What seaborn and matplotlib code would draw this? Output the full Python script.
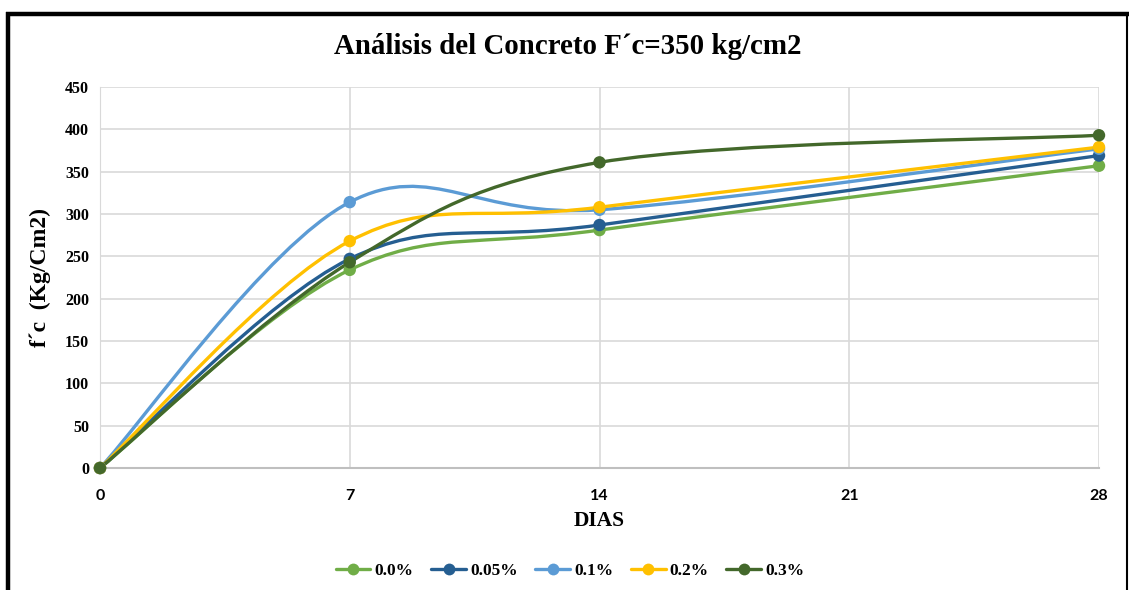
import numpy as np
import pandas as pd
import matplotlib
matplotlib.use("Agg")
import matplotlib.pyplot as plt
import seaborn as sns
from matplotlib.path import Path
from matplotlib.patches import PathPatch
from matplotlib.lines import Line2D

dias = [0, 7, 14, 28]
series_names = ["0.0%", "0.05%", "0.1%", "0.2%", "0.3%"]
v_00 = [0, 234, 281, 357]
v_005 = [0, 247, 287, 369]
v_01 = [0, 314, 305, 377]
v_02 = [0, 268, 308, 379]
v_03 = [0, 243, 361, 393]
colors = ["#70AD47", "#255E91", "#5B9BD5", "#FFC000", "#43682B"]
y_ticks = list(range(0, 451, 50))
x_ticks = [0, 7, 14, 21, 28]

values = [v_00, v_005, v_01, v_02, v_03]
df = pd.DataFrame({
    "DIAS": dias * len(series_names),
    "fc": sum(values, []),
    "serie": [s for s in series_names for _ in dias],
})

sns.set_style("white")
plt.rcParams["font.family"] = ["Liberation Serif", "DejaVu Serif"]
plt.rcParams["text.color"] = "black"
plt.rcParams["axes.labelcolor"] = "black"
plt.rcParams["xtick.color"] = "black"
plt.rcParams["ytick.color"] = "black"

fig = plt.figure(figsize=(11.29, 5.90), dpi=100)
ax = fig.add_axes([100 / 1129, 1 - 468 / 590, (1099 - 100) / 1129, (468 - 87) / 590])


def smooth_path(xs, ys):
    pts = np.column_stack([xs, ys]).astype(float)
    n = len(pts)
    verts = [pts[0]]
    codes = [Path.MOVETO]
    for i in range(n - 1):
        p0 = pts[i - 1] if i > 0 else pts[i]
        p1 = pts[i]
        p2 = pts[i + 1]
        p3 = pts[i + 2] if i + 2 < n else pts[i + 1]
        c1 = p1 + (p2 - p0) / 6.0
        c2 = p2 - (p3 - p1) / 6.0
        verts += [c1, c2, p2]
        codes += [Path.CURVE4] * 3
    return Path(verts, codes)


for name, vals, col in zip(series_names, values, colors):
    patch = PathPatch(smooth_path(dias, vals), facecolor="none", edgecolor=col,
                      lw=2.4, zorder=3, capstyle="round", joinstyle="round")
    ax.add_patch(patch)

sns.scatterplot(data=df, x="DIAS", y="fc", hue="serie", palette=colors,
                hue_order=series_names, s=80, edgecolor="none", ax=ax,
                zorder=4, legend=False, clip_on=False)

ax.set_xlim(0, 28)
ax.set_ylim(0, 450)
ax.set_xticks(x_ticks)
ax.set_yticks(y_ticks)
ax.set_xticklabels([str(t) for t in x_ticks], family=["Lato", "DejaVu Sans"],
                   fontweight="bold", fontsize=11.5)
ax.set_yticklabels([str(t) for t in y_ticks], fontweight="bold", fontsize=11.5)
ax.tick_params(axis="y", length=0, pad=8)
ax.tick_params(axis="x", length=0, pad=15)
ax.grid(True, color="#D9D9D9", lw=1.2)
ax.set_axisbelow(True)
for s in ["top", "right"]:
    ax.spines[s].set_visible(False)
ax.spines["left"].set_color("#D9D9D9")
ax.spines["bottom"].set_color("#BFBFBF")
ax.spines["bottom"].set_linewidth(1.5)

ax.set_xlabel("DIAS", fontsize=15.5, fontweight="bold", labelpad=6)
ax.set_ylabel("f´c  (Kg/Cm2)", fontsize=17, fontweight="bold", labelpad=10)

fig.text(0.503, 1 - 46 / 590, "Análisis del Concreto F´c=350 kg/cm2",
         ha="center", va="center", fontsize=20.8, fontweight="bold")

handles = [Line2D([0], [0], color=c, lw=2.4, marker="o", markersize=8.5,
                  markeredgecolor="none") for c in colors]
fig.legend(handles, series_names, loc="center", bbox_to_anchor=(0.505, 1 - 571 / 590),
           ncol=5, frameon=False, prop={"weight": "bold", "size": 12.5},
           handlelength=2.0, columnspacing=1.0, handletextpad=0.25)

# outer border
fig.add_artist(Line2D([8 / 1129, 8 / 1129], [0, 1 - 12 / 590], transform=fig.transFigure,
                      color="black", lw=3.2, solid_capstyle="butt"))
fig.add_artist(Line2D([6 / 1129, 1129 / 1129], [1 - 14 / 590, 1 - 14 / 590],
                      transform=fig.transFigure, color="black", lw=3.2, solid_capstyle="butt"))
fig.add_artist(Line2D([1126.5 / 1129, 1126.5 / 1129], [0, 1 - 14 / 590],
                      transform=fig.transFigure, color="black", lw=1.5, solid_capstyle="butt"))

fig.savefig("out.png", dpi=100)
